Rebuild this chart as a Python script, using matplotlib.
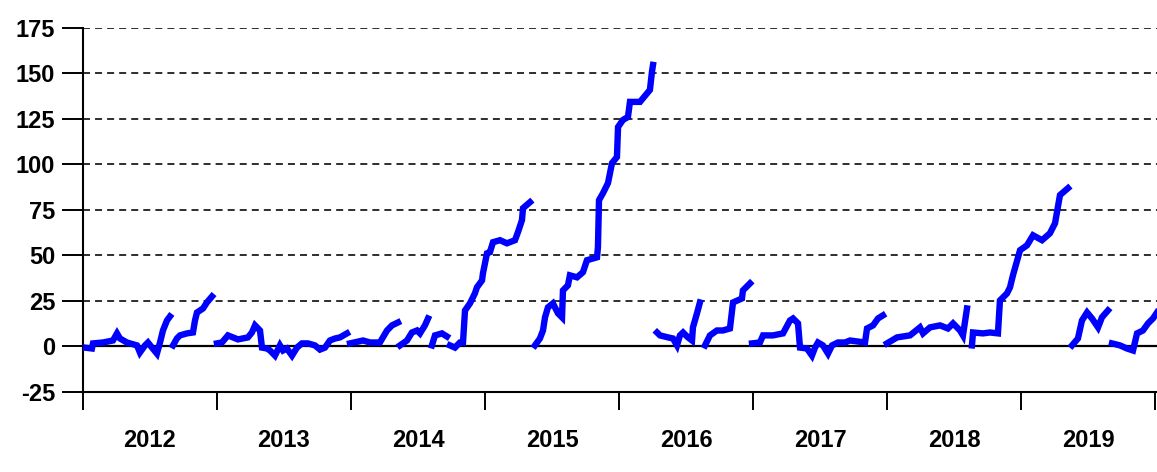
import matplotlib.pyplot as plt

plt.rcParams['font.family'] = ['Liberation Sans', 'DejaVu Sans']
plt.rcParams['axes.unicode_minus'] = False

# each block below is one contract run (decimal years, cumulative value)
seg1_x = [2012.000, 2012.067, 2012.075, 2012.149, 2012.224, 2012.254, 2012.276, 2012.328, 2012.403,
          2012.425, 2012.463, 2012.485, 2012.515, 2012.552, 2012.575, 2012.597, 2012.627, 2012.649]
seg1_y = [-0.5, -1.1, 1.7, 2.2, 3.3, 7.2, 4.4, 2.2, 0.6, -3.3, 0.6, 2.2, -0.6, -3.9, 2.2, 8.8, 14.3, 16.5]

seg2_x = [2012.672, 2012.701, 2012.724, 2012.776, 2012.821, 2012.836, 2012.851, 2012.896, 2012.925, 2012.963]
seg2_y = [0.6, 4.4, 6.1, 7.2, 7.7, 14.3, 18.7, 20.9, 24.2, 27.5]

seg3_x = [2013.000, 2013.037, 2013.082, 2013.119, 2013.157, 2013.231, 2013.261, 2013.284, 2013.321,
          2013.336, 2013.373, 2013.396, 2013.433, 2013.470, 2013.493, 2013.522, 2013.560, 2013.597,
          2013.634, 2013.679, 2013.731, 2013.769, 2013.806, 2013.843, 2013.881, 2013.918, 2013.970]
seg3_y = [1.7, 2.2, 6.1, 5.0, 3.9, 5.0, 7.7, 11.6, 8.8, -0.6, -1.1, -2.2, -5.0, 0.6, -2.2, -1.1,
          -5.0, -0.6, 1.7, 1.7, 0.6, -1.7, -0.6, 3.3, 4.4, 5.0, 7.2]

seg4_x = [2013.993, 2014.090, 2014.142, 2014.216, 2014.269, 2014.306, 2014.351]
seg4_y = [1.7, 3.3, 2.2, 2.2, 8.8, 11.6, 13.2]

seg5_x = [2014.366, 2014.418, 2014.455, 2014.493, 2014.515, 2014.552, 2014.575]
seg5_y = [0.6, 3.3, 7.7, 8.8, 7.2, 11.6, 15.4]

seg6_x = [2014.604, 2014.627, 2014.679, 2014.716]
seg6_y = [0.6, 6.1, 7.2, 5.5]

seg7_x = [2014.739, 2014.776, 2014.813, 2014.836, 2014.851, 2014.888, 2014.925, 2014.940, 2014.978,
          2014.985, 2015.015, 2015.037, 2015.060, 2015.112, 2015.164, 2015.224, 2015.246, 2015.276,
          2015.284, 2015.336]
seg7_y = [0.6, -0.6, 2.2, 2.2, 19.8, 23.7, 29.2, 32.5, 36.3, 40.2, 51.2, 51.8, 57.3, 58.4, 56.7,
          58.4, 62.8, 69.4, 76.0, 79.3]

seg8_x = [2015.373, 2015.410, 2015.433, 2015.448, 2015.470, 2015.507, 2015.545, 2015.575, 2015.582,
          2015.619, 2015.634, 2015.687, 2015.731, 2015.761, 2015.836, 2015.843, 2015.851, 2015.881,
          2015.918, 2015.948, 2015.985, 2015.993, 2016.030, 2016.067, 2016.082, 2016.157, 2016.231,
          2016.246, 2016.254]
seg8_y = [0.6, 4.4, 8.8, 16.0, 21.5, 23.7, 18.2, 16.0, 30.8, 33.6, 39.1, 38.0, 40.8, 47.4, 49.0,
          54.5, 80.4, 84.3, 89.8, 100.8, 104.1, 120.6, 124.5, 126.1, 134.4, 134.4, 141.0, 150.9, 154.7]

seg9_x = [2016.284, 2016.306, 2016.366, 2016.403, 2016.433, 2016.455, 2016.478, 2016.515, 2016.545,
          2016.552, 2016.582, 2016.604]
seg9_y = [7.7, 6.1, 5.0, 4.4, 0.6, 6.1, 7.7, 5.0, 3.3, 10.5, 18.2, 24.2]

seg10_x = [2016.642, 2016.679, 2016.731, 2016.776, 2016.828, 2016.851, 2016.918, 2016.925, 2016.978]
seg10_y = [0.6, 6.1, 8.8, 8.8, 9.9, 24.2, 26.4, 30.8, 34.7]

seg11_x = [2016.993, 2017.052, 2017.075, 2017.149, 2017.224, 2017.276, 2017.299, 2017.336, 2017.351,
           2017.403, 2017.440, 2017.463, 2017.485, 2017.522, 2017.560, 2017.590, 2017.634, 2017.687,
           2017.724, 2017.836, 2017.851, 2017.896, 2017.933, 2017.970]
seg11_y = [1.7, 2.2, 6.1, 6.1, 7.2, 14.3, 15.4, 12.7, -0.6, -1.1, -5.0, -0.6, 2.2, 0.6, -3.9, 0.6,
           2.2, 2.2, 3.3, 2.2, 9.9, 11.6, 15.4, 17.1]

seg12_x = [2018.000, 2018.075, 2018.172, 2018.246, 2018.269, 2018.321, 2018.396, 2018.455, 2018.493,
           2018.545, 2018.567, 2018.597]
seg12_y = [1.7, 5.0, 6.1, 10.5, 7.2, 10.5, 11.6, 9.9, 12.7, 8.8, 6.1, 20.9]

seg13_x = [2018.634, 2018.642, 2018.716, 2018.769, 2018.828, 2018.843, 2018.896, 2018.918, 2018.940,
           2018.993, 2019.045, 2019.090, 2019.157, 2019.216, 2019.254, 2019.291, 2019.351]
seg13_y = [0.6, 7.7, 7.2, 7.7, 7.2, 25.3, 29.2, 32.5, 39.1, 52.9, 55.6, 61.1, 58.4, 62.2, 67.7, 83.2, 87.0]

seg14_x = [2019.381, 2019.425, 2019.455, 2019.493, 2019.530, 2019.575, 2019.604, 2019.649]
seg14_y = [0.6, 4.4, 14.3, 18.7, 15.4, 10.5, 16.0, 19.8]

seg15_x = [2019.679, 2019.739, 2019.791, 2019.836, 2019.866, 2019.910, 2019.948, 2019.985, 2020.015]
seg15_y = [1.7, 0.6, -1.1, -2.2, 7.2, 8.8, 12.7, 15.4, 18.7]

years = [2012, 2013, 2014, 2015, 2016, 2017, 2018, 2019, 2020]
year_labels = ['2012', '2013', '2014', '2015', '2016', '2017', '2018', '2019']
y_ticks = [-25, 0, 25, 50, 75, 100, 125, 150, 175]

segments = [(seg1_x, seg1_y), (seg2_x, seg2_y), (seg3_x, seg3_y), (seg4_x, seg4_y),
            (seg5_x, seg5_y), (seg6_x, seg6_y), (seg7_x, seg7_y), (seg8_x, seg8_y),
            (seg9_x, seg9_y), (seg10_x, seg10_y), (seg11_x, seg11_y), (seg12_x, seg12_y),
            (seg13_x, seg13_y), (seg14_x, seg14_y), (seg15_x, seg15_y)]

fig = plt.figure(figsize=(11.57, 4.72), dpi=100)
ax = fig.add_axes([0.0717, 0.1695, 0.9283, 0.7712])

for gy in y_ticks[2:]:
    ax.axhline(gy, color='#2e2e2e', lw=1.4, ls=(0, (3.6, 2.6)), zorder=1)
ax.axhline(0, color='black', lw=1.6, zorder=2)

for sx, sy in segments:
    ax.plot(sx, sy, color='#0000ff', lw=4.6, solid_joinstyle='miter',
            solid_capstyle='projecting', zorder=3)

ax.set_xlim(2012, 2020.015)
ax.set_ylim(-25, 175)

ax.set_yticks(y_ticks)
ax.tick_params(axis='y', length=15, width=1.4, pad=5, labelsize=17)
for lab in ax.get_yticklabels():
    lab.set_fontweight('bold')

ax.set_xticks(years)
ax.set_xticklabels([])
ax.tick_params(axis='x', which='major', length=13, width=1.4)
ax.set_xticks([y + 0.5 for y in years[:-1]], minor=True)
ax.set_xticklabels(year_labels, minor=True, fontsize=17, fontweight='bold')
ax.tick_params(axis='x', which='minor', length=0, pad=27)

for side in ['top', 'right']:
    ax.spines[side].set_visible(False)
for side in ['left', 'bottom']:
    ax.spines[side].set_linewidth(1.5)

fig.savefig('out.png', dpi=100)
